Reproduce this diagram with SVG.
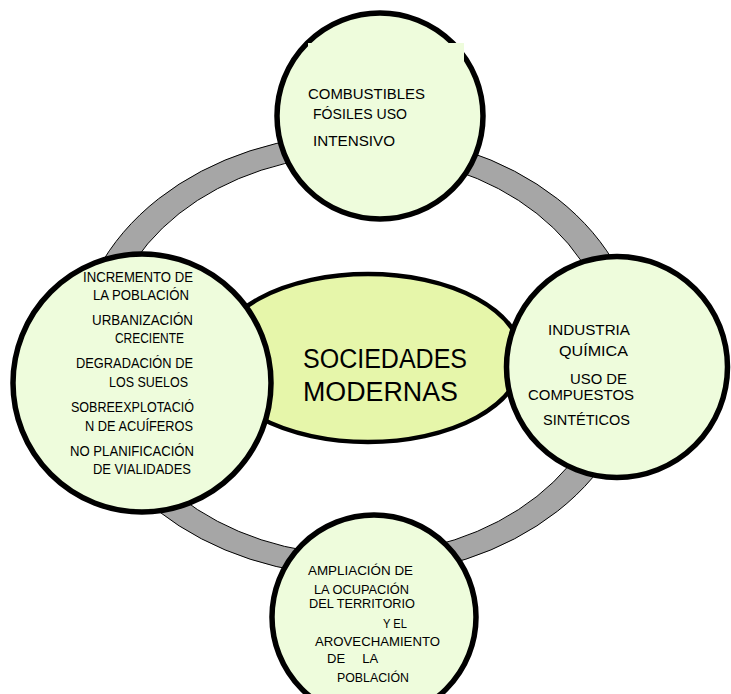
<svg xmlns="http://www.w3.org/2000/svg" width="731" height="694" viewBox="0 0 731 694">
<style>
.circ{fill:#eefcdc;stroke:#000;stroke-width:5.5}
.ctr{fill:#e6f6aa;stroke:#000;stroke-width:4.5}
.ring{fill:#a6a6a6;stroke:#000;stroke-width:1;fill-rule:evenodd}
text{font-family:"Liberation Sans",Arial,sans-serif;fill:#000}
.s{font-size:14px}
.t{font-size:13px}
.b{font-size:27px}
</style>
<rect width="731" height="694" fill="#fff"/>
<g id="connectors">
<path class="ring" d="M76,355 A282,221 0 1,0 640,355 A282,221 0 1,0 76,355 Z M105,355 A253,200 0 1,0 611,355 A253,200 0 1,0 105,355 Z"/>
</g>
<g id="center">
<ellipse class="ctr" cx="368" cy="358" rx="154" ry="84"/>
<text class="b" x="303" y="368" textLength="164" lengthAdjust="spacingAndGlyphs">SOCIEDADES</text>
<text class="b" x="303" y="401" textLength="155" lengthAdjust="spacingAndGlyphs">MODERNAS</text>
</g>
<g id="top">
<circle class="circ" cx="380" cy="116" r="103"/>
<rect x="308" y="43" width="156" height="21" fill="#eefcdc"/>
<text class="s" x="308" y="99" textLength="117" lengthAdjust="spacingAndGlyphs">COMBUSTIBLES</text>
<text class="s" x="313" y="119" textLength="94" lengthAdjust="spacingAndGlyphs">FÓSILES USO</text>
<text class="s" x="313" y="146" textLength="82" lengthAdjust="spacingAndGlyphs">INTENSIVO</text>
</g>
<g id="left">
<circle class="circ" cx="142" cy="383" r="129"/>
<text class="s" x="83" y="282" textLength="110" lengthAdjust="spacingAndGlyphs">INCREMENTO DE</text>
<text class="s" x="93" y="300" textLength="96" lengthAdjust="spacingAndGlyphs">LA POBLACIÓN</text>
<text class="s" x="92" y="325" textLength="101" lengthAdjust="spacingAndGlyphs">URBANIZACIÓN</text>
<text class="s" x="115" y="343" textLength="69" lengthAdjust="spacingAndGlyphs">CRECIENTE</text>
<text class="s" x="76" y="368" textLength="117" lengthAdjust="spacingAndGlyphs">DEGRADACIÓN DE</text>
<text class="s" x="109" y="387" textLength="79" lengthAdjust="spacingAndGlyphs">LOS SUELOS</text>
<text class="s" x="71" y="412" textLength="123" lengthAdjust="spacingAndGlyphs">SOBREEXPLOTACIÓ</text>
<text class="s" x="85" y="431" textLength="108" lengthAdjust="spacingAndGlyphs">N DE ACUÍFEROS</text>
<text class="s" x="70" y="456" textLength="124" lengthAdjust="spacingAndGlyphs">NO PLANIFICACIÓN</text>
<text class="s" x="93" y="474" textLength="98" lengthAdjust="spacingAndGlyphs">DE VIALIDADES</text>
</g>
<g id="right">
<circle class="circ" cx="617" cy="367" r="110.5"/>
<text class="s" x="548" y="335" textLength="82" lengthAdjust="spacingAndGlyphs">INDUSTRIA</text>
<text class="s" x="559" y="356" textLength="69" lengthAdjust="spacingAndGlyphs">QUÍMICA</text>
<text class="s" x="570" y="384" textLength="57" lengthAdjust="spacingAndGlyphs">USO DE</text>
<text class="s" x="528" y="400" textLength="106" lengthAdjust="spacingAndGlyphs">COMPUESTOS</text>
<text class="s" x="543" y="425" textLength="87" lengthAdjust="spacingAndGlyphs">SINTÉTICOS</text>
</g>
<g id="bottom">
<circle class="circ" cx="374" cy="617" r="102"/>
<text class="t" x="308" y="575" textLength="105" lengthAdjust="spacingAndGlyphs">AMPLIACIÓN DE</text>
<text class="t" x="314" y="594" textLength="95" lengthAdjust="spacingAndGlyphs">LA OCUPACIÓN</text>
<text class="t" x="309" y="608" textLength="106" lengthAdjust="spacingAndGlyphs">DEL TERRITORIO</text>
<text class="t" x="383" y="628" textLength="24" lengthAdjust="spacingAndGlyphs">Y EL</text>
<text class="t" x="315" y="646" textLength="125" lengthAdjust="spacingAndGlyphs">AROVECHAMIENTO</text>
<text class="t" x="327" y="663" xml:space="preserve" style="white-space:pre" word-spacing="5">DE  LA</text>
<text class="t" x="337" y="682" textLength="72" lengthAdjust="spacingAndGlyphs">POBLACIÓN</text>
</g>
</svg>
